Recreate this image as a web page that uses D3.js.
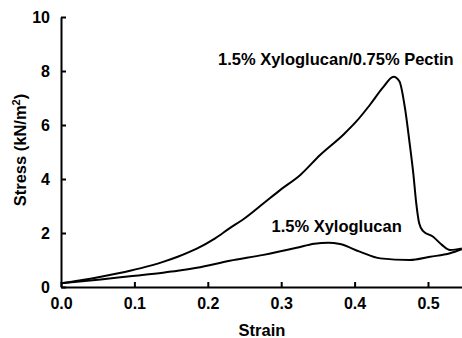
<!DOCTYPE html>
<html><head><meta charset="utf-8">
<script src="https://cdn.jsdelivr.net/npm/d3@7"></script>
<style>
html,body{margin:0;padding:0;background:#fff;}
svg{display:block;}
text{font-family:Arial,"Liberation Sans",Helvetica,sans-serif;font-weight:bold;fill:#000;}
</style></head>
<body>
<svg id="chart" width="462" height="338"></svg>
<script>
// Series 1: 1.5% Xyloglucan/0.75% Pectin
const pectinStrain = [0, 0.025, 0.054, 0.094, 0.109, 0.139, 0.159, 0.185, 0.21, 0.23, 0.248, 0.276, 0.298, 0.326, 0.353, 0.385, 0.403, 0.421, 0.439, 0.453, 0.461, 0.469, 0.475, 0.480, 0.484, 0.488, 0.493, 0.507, 0.519, 0.530, 0.546];
const pectinStress = [0.14, 0.24, 0.38, 0.60, 0.70, 0.93, 1.12, 1.42, 1.80, 2.18, 2.50, 3.10, 3.58, 4.15, 4.89, 5.65, 6.15, 6.75, 7.40, 7.79, 7.62, 6.56, 5.32, 4.20, 3.10, 2.36, 2.08, 1.86, 1.56, 1.37, 1.43];
// Series 2: 1.5% Xyloglucan
const xgStrain = [0, 0.054, 0.094, 0.139, 0.159, 0.185, 0.23, 0.276, 0.321, 0.345, 0.364, 0.380, 0.407, 0.435, 0.475, 0.503, 0.530, 0.546];
const xgStress = [0.14, 0.28, 0.40, 0.53, 0.60, 0.71, 0.97, 1.19, 1.45, 1.60, 1.64, 1.59, 1.31, 1.06, 1.0, 1.12, 1.25, 1.40];

const xTicks = [0, 0.1, 0.2, 0.3, 0.4, 0.5];
const yTicks = [0, 2, 4, 6, 8, 10];
const seriesLabels = ["1.5% Xyloglucan/0.75% Pectin", "1.5% Xyloglucan"];

const svg = d3.select("#chart");
const x = d3.scaleLinear().domain([0, 0.55]).range([61, 464.7]);
const y = d3.scaleLinear().domain([0, 10]).range([287, 17]);

const fs = "16.5px";

const xAxis = svg.append("g").attr("transform", "translate(0,287)")
  .call(d3.axisBottom(x).tickValues(xTicks).tickFormat(d3.format(".1f")).tickSizeInner(-5).tickSizeOuter(0).tickPadding(11));
const yAxis = svg.append("g").attr("transform", "translate(61,0)")
  .call(d3.axisLeft(y).tickValues(yTicks).tickFormat(d3.format("d")).tickSizeInner(-5).tickSizeOuter(0).tickPadding(11));
[xAxis, yAxis].forEach(a => {
  a.selectAll("path.domain").attr("stroke", "#000").attr("stroke-width", 2);
  a.selectAll(".tick line").attr("stroke", "#000").attr("stroke-width", 2);
  a.selectAll(".tick text").style("font-size", "16px").attr("fill", "#000")
   .style("font-family", 'Arial,"Liberation Sans",sans-serif').style("font-weight", "bold");
});

const line = d3.line().x(d => x(d[0])).y(d => y(d[1])).curve(d3.curveMonotoneX);
const s1 = pectinStrain.map((v, i) => [v, pectinStress[i]]);
const s2 = xgStrain.map((v, i) => [v, xgStress[i]]);
[s1, s2].forEach(s => {
  svg.append("path").datum(s).attr("d", line).attr("fill", "none")
    .attr("stroke", "#000").attr("stroke-width", 2).attr("stroke-linejoin", "round");
});

svg.append("text").attr("x", 218).attr("y", 65).style("font-size", fs).text(seriesLabels[0]);
svg.append("text").attr("x", 271.5).attr("y", 232).style("font-size", fs).text(seriesLabels[1]);

svg.append("text").attr("x", 262).attr("y", 336).attr("text-anchor", "middle").style("font-size", fs).text("Strain");

const yl = svg.append("text").attr("transform", "translate(26,150) rotate(-90)").attr("text-anchor", "middle").style("font-size", fs);
yl.append("tspan").text("Stress (kN/m");
yl.append("tspan").attr("baseline-shift", "super").style("font-size", "11px").text("2");
yl.append("tspan").text(")");
</script>
</body></html>
